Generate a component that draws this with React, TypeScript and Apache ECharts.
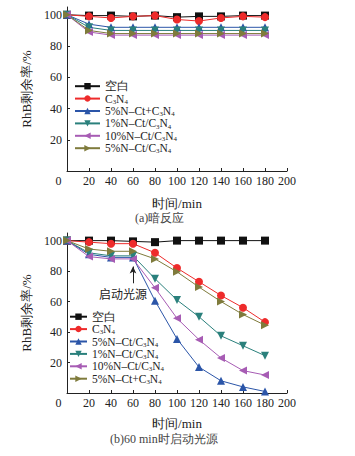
import React, { useEffect, useRef } from "react";
import * as echarts from "echarts";

const times = [0, 20, 40, 60, 80, 100, 120, 140, 160, 180];
const yTicks = [0, 20, 40, 60, 80, 100];

// (a) dark reaction
const darkBlank = [100, 99.5, 99.5, 99, 99.5, 98.5, 99, 99, 99.5, 99.5];
const darkC3N4 = [100, 99, 98, 99, 99.5, 97, 96, 98, 99, 98.5];
const dark5Plus = [100, 94, 92, 92, 92, 92, 92, 92, 92, 92];
const dark1 = [100, 92, 90, 90, 90, 90, 90, 90, 90, 90];
const dark10 = [100, 89, 87, 87, 87, 87, 87, 87, 87, 87];
const dark5Slash = [100, 90, 88, 88, 88, 88, 88, 88, 88, 88];

// (b) light on at 60 min
const lightBlank = [100, 100, 100, 99.5, 99, 100, 100, 100, 100, 100];
const lightC3N4 = [100, 99, 98, 98, 92, 82, 73, 64, 56, 46.5];
const light5Slash = [100, 91, 89, 89, 60.5, 35.5, 17, 8, 4, 1];
const light1 = [100, 92, 90, 90, 75, 61, 50, 37.5, 31, 24.5];
const light10 = [100, 89.5, 88, 88, 69, 49, 35, 23, 14.7, 11.8];
const light5Plus = [100, 94.5, 93, 93, 88, 79.5, 69.5, 60, 51.5, 44.5];

const C = {
  black: "#111111",
  red: "#ee2b2b",
  blue: "#2b55a8",
  teal: "#2a807c",
  purple: "#a75cb4",
  olive: "#7f7b3c",
};

const SYM = {
  sq: "rect",
  ci: "circle",
  up: "triangle",
  down: "path://M0,0 L10,0 L5,9 Z",
  left: "path://M9,0 L9,10 L0,5 Z",
  right: "path://M0,0 L0,10 L9,5 Z",
};

const FONT = "'Liberation Serif', 'Times New Roman', serif";

function fmtName(n: string) {
  return n.replace(/C3N4/g, "C{sub|3}N{sub|4}");
}

function mkSeries(name: string, data: number[], color: string, symbol: string, extra: any = {}) {
  return {
    name,
    type: "line",
    data: times.map((t, i) => [t, data[i]]),
    symbol,
    symbolSize: 8,
    itemStyle: { color },
    lineStyle: { color, width: 1 },
    ...extra,
  };
}

function baseOption(gridTop: number, gridHeight: number, nameGapX: number, legendTop: number, legendLeft: number, lineH: number, legendFont: number, iconW: number, caption: string, captionX: number, captionY: number) {
  return {
    animation: false,
    textStyle: { fontFamily: FONT },
    grid: { left: 67, right: 68, top: gridTop, height: gridHeight },
    xAxis: {
      type: "value",
      min: 0,
      max: 200,
      interval: 20,
      name: "时间/min",
      nameLocation: "middle",
      nameGap: nameGapX,
      nameTextStyle: { fontFamily: FONT, fontSize: 13, color: "#222" },
      axisLine: { lineStyle: { color: "#222", width: 1 } },
      axisTick: { inside: true, length: 3, lineStyle: { color: "#222" } },
      splitLine: { show: false },
      axisLabel: {
        margin: 4,
        fontFamily: FONT,
        fontSize: 12,
        color: "#222",
        formatter: (v: number) => (v === 0 ? "{z|0}" : String(v)),
        rich: { z: { fontFamily: FONT, fontSize: 12, color: "#222", padding: [0, 17, 0, 0] } },
      },
    },
    yAxis: {
      type: "value",
      min: 0,
      max: 105,
      interval: 20,
      name: "RhB剩余率/%",
      nameLocation: "middle",
      nameGap: 27,
      nameTextStyle: { fontFamily: FONT, fontSize: 13, color: "#222" },
      axisLine: { show: true, lineStyle: { color: "#222", width: 1 } },
      axisTick: { show: true, inside: true, length: 3, lineStyle: { color: "#222" } },
      splitLine: { show: false },
      axisLabel: {
        margin: 5,
        fontFamily: FONT,
        fontSize: 12,
        color: "#222",
        showMinLabel: false,
        showMaxLabel: false,
        formatter: (v: number) => (yTicks.includes(v) ? String(v) : ""),
      },
    },
    legend: {
      orient: "vertical",
      left: legendLeft,
      top: legendTop,
      itemGap: 0,
      itemWidth: iconW,
      itemHeight: 8,
      padding: 0,
      formatter: fmtName,
      textStyle: {
        fontFamily: FONT,
        fontSize: legendFont,
        lineHeight: lineH,
        color: "#222",
        rich: {
          sub: { fontFamily: FONT, fontSize: legendFont * 0.6, lineHeight: lineH * 0.6, color: "#222", verticalAlign: "bottom" },
        },
      },
    },
    graphic: [
      {
        type: "text",
        x: captionX,
        y: captionY,
        style: { text: caption, fontFamily: FONT, fontSize: 12, fill: "#444", verticalAlign: "middle" },
      },
    ],
  } as any;
}

function TopChart() {
  const ref = useRef<HTMLDivElement>(null);
  useEffect(() => {
    const chart = echarts.init(ref.current!, undefined, { renderer: "svg" });
    const opt = baseOption(7, 164, 26, 80, 74, 12.4, 11.5, 25, "(a)暗反应", 135, 218);
    opt.series = [
      mkSeries("空白", darkBlank, C.black, SYM.sq),
      mkSeries("C3N4", darkC3N4, C.red, SYM.ci),
      mkSeries("5%N–Ct+C3N4", dark5Plus, C.blue, SYM.up),
      mkSeries("1%N–Ct/C3N4", dark1, C.teal, SYM.down),
      mkSeries("10%N–Ct/C3N4", dark10, C.purple, SYM.left),
      mkSeries("5%N–Ct/C3N4", dark5Slash, C.olive, SYM.right),
    ];
    chart.setOption(opt);
    return () => chart.dispose();
  }, []);
  return <div ref={ref} style={{ position: "absolute", left: 0, top: 0, width: 355, height: 228 }} />;
}

function BottomChart() {
  const ref = useRef<HTMLDivElement>(null);
  useEffect(() => {
    const chart = echarts.init(ref.current!, undefined, { renderer: "svg" });
    const opt = baseOption(5, 160, 24, 82.5, 69, 12.4, 11.5, 17, "(b)60 min时启动光源", 110, 211);
    opt.series = [
      mkSeries("空白", lightBlank, C.black, SYM.sq),
      mkSeries("C3N4", lightC3N4, C.red, SYM.ci),
      mkSeries("5%N–Ct/C3N4", light5Slash, C.blue, SYM.up),
      mkSeries("1%N–Ct/C3N4", light1, C.teal, SYM.down),
      mkSeries("10%N–Ct/C3N4", light10, C.purple, SYM.left),
      mkSeries("5%N–Ct+C3N4", light5Plus, C.olive, SYM.right, {
        markLine: {
          silent: true,
          symbol: ["none", "arrow"],
          symbolSize: [5, 7],
          label: { show: false },
          lineStyle: { color: "#222", width: 1, type: "solid" },
          data: [[{ coord: [60, 72] }, { coord: [60, 83] }]],
        },
      }),
    ];
    opt.graphic.push({
      type: "text",
      x: 123,
      y: 65,
      style: { text: "启动光源", fontFamily: "'Noto Sans CJK SC', sans-serif", fontSize: 12, fill: "#222", align: "center", verticalAlign: "middle" },
    });
    chart.setOption(opt);
    return () => chart.dispose();
  }, []);
  return <div ref={ref} style={{ position: "absolute", left: 0, top: 228, width: 355, height: 228 }} />;
}

export default function App() {
  return (
    <div style={{ position: "absolute", left: 0, top: 0, width: 355, height: 456, background: "#fff" }}>
      <TopChart />
      <BottomChart />
    </div>
  );
}
